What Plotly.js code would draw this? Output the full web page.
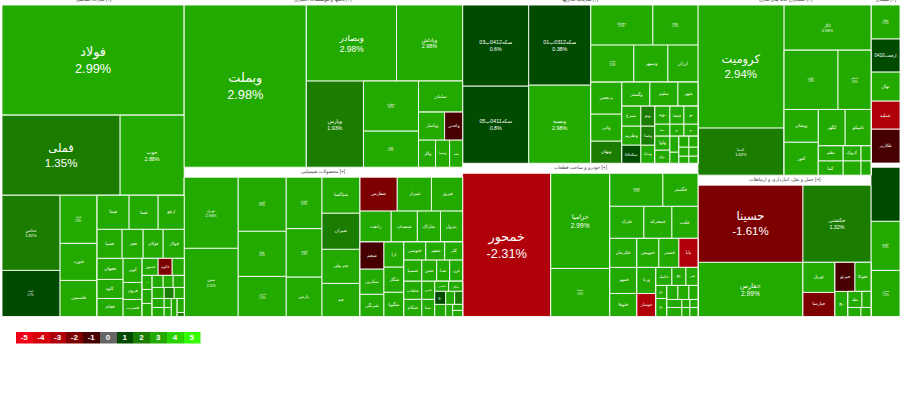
<!DOCTYPE html>
<html><head><meta charset="utf-8">
<script src="https://cdn.plot.ly/plotly-3.0.1.min.js"></script>
<style>html,body{margin:0;padding:0;background:#fff;overflow:hidden}#c{position:absolute;left:0;top:-5px;width:900px;height:412px}</style>
</head><body><div id="c"></div>
<script>
// leaf: [symbol, weight, % change, show % in the label]
// group: a list of leaves/groups, split along alternating directions
var metals = [
  ['فلزات اساسی [+]',1820,null],
  ['فولاد',20020,2.99,1],
  [['فملی',9440,1.35,1],['خوب',5120,2.88,1]],
  [
    [['فخاس',4350,1.82,1],['کچاد',2668,0.7,1]],
    [['فنوال',1776,2.9,1],['فنورد',1369,2.9],['فاسمین',1332,2.9]],
    [
      [['فپنتا',1088,2.9],['فسا',986,2.9],['ارفع',884,2.9]],
      [['فسپا',725,2.9],['فجر',609,2.9],['فولای',580,2.9],['فولاژ',609,2.9]],
      [
        [['فجهان',546,2.9],['کاوه',494,2.9],['فجام',468,2.9]],
        [['کویر',456,2.9],['فروی',323,2.9],['فسرب',323,2.9]],
        [
          [['فسوژ',272,2.9],['فالوم',238,-1.8],['',204,2.9]],
          [
            [['ـــ',140,2.9],['',140,2.9],['',130,2.9]],
            [
              [['',132,2.9],['',120,2.9],['',132,2.9]],
              [['',132,2.9],['',110,1.5],['',110,2.9]],
              [[['',108,2.9],['',108,2.9]],[['',63,2.9],['',63,2.9]],['',108,2.9],[['',98,2.9],['',28,1.5]]]
            ]
          ]
        ]
      ]
    ]
  ]
];
var banks = [
  ['بانکها و موسسات اعتباری [+]',2780,null],
  [
    ['وبملت',19764,2.98,1],
    [
      [['وبصادر',6840,2.98,1],['وپاداش',5016,2.98,1]],
      [
        ['وپارس',4902,1.93,1],
        [['وتجارت',2750,2.9,1],['ودی',1980,2.9,1]],
        [
          ['سامان',1364,2.9],
          [['وپاسار',728,2.9],['وکغدیر',504,-0.9]],
          [['وکار',459,2.9],['وسینا',378,2.9],['ـمـ',351,2.9]]
        ]
      ]
    ]
  ]
];
var chemicals = [
  ['محصولات شیمیایی [+]',2780,null],
  [
    [['نوری',3834,2.94,1],['مبین',3672,2.5,1]],
    [['فارس',2592,2.9,1],['شپنا',2160,2.9,1],['شبریز',1920,2.9,1]],
    [['شتران',1836,2.9,1],['شبندر',1728,2.9,1],['پارس',1404,2.9]],
    [['شپاکسا',1368,2.9],['شیران',1368,1.3],['جم پیلن',1292,2.9],['جم',1254,2.9]],
    [
      [['شفارس',1258,-1.6],['شیراز',1156,2.9],['فیروز',1054,2.9]],
      [['رانفت',961,2.9],['شصدف',806,2.9],['شاراک',713,2.9],['پترول',682,2.9]],
      [
        [['شجم',648,-0.8],['سکرین',600,2.9],['شرنگی',528,2.9]],
        [['ارا',500,2.9],['شگار',500,2.9],['شگویا',480,2.9]],
        [
          [['خنوسی',396,2.9],['شفیر',342,2.9],['کلر',324,2.9]],
          [['شسپا',378,2.9],['شفن',315,2.9],['شـا',273,2.9],['قرن',273,2.9]],
          [
            [['شلعاب',324,2.9],['شکام',306,2.9]],
            [['شـی',234,2.9],['ـسا',221,2.9]],
            [
              [['شغدیر',140,2.9],['شگل',140,2.9]],
              [['ـج',143,0.7],['',117,2.9],['',104,1.5]],
              [['',132,2.9],['',84,2.9],[['',60,2.9],['',60,2.9]]]
            ]
          ]
        ]
      ]
    ]
  ]
];
var investments = [
  ['سرمایه گذاریها [+]',2360,null],
  [
    [['سکه0412ب03',5346,0.6,1],['سکه0411ب05',5082,0.8,1]],
    [['سکه0312ب01',4960,0.38,1],['وبصبه',4836,2.98,1]],
    [
      [['وصندوق',2480,2.9,1],['وبیمه',1800,2.9,1]],
      [['وغدیر',1591,2.9,1],['وسپهر',1258,2.9],['ارزان',1110,2.9]],
      [
        [['برنجس',992,2.9],['واتی',837,2.9],['وبهان',682,1.3]],
        [
          [['وگستر',672,2.9],['سلیم',672,2.9],['شهر',480,2.9]],
          [
            [['ـسرع',380,2.9],['وظریم',361,2.9],['04سکه',342,0.7]],
            [['ـوتو',280,1.5],['وصنا',266,1.5],['وسایا',252,2.9]],
            [
              [['ـوید',270,2.9],['فیضا',252,2.9],['ـو',252,2.9]],
              [['ـمد',180,2.9],['ـو',168,2.9],['ـو',168,2.9]],
              [
                [['ولوا',210,2.9],['ـواج',195,2.9]],
                [['',144,2.9],['',99,2.9]],
                [[['',110,2.9],['',99,2.9]],[['',90,2.9],['',81,2.9]],[['',70,2.9],['',63,2.9]]]
              ]
            ]
          ]
        ]
      ]
    ]
  ]
];
var autos = [
  ['خودرو و ساخت قطعات [+]',2360,null],
  [
    ['خمحور',12584,-2.31,1],
    [['خزامیا',5605,2.99,1],['خساپا',2832,2.9,1]],
    [
      [['خودرو',1749,2.9,1],['خگستر',1155,2.9]],
      [['خترک',1088,2.9],['خمحرکه',896,2.9],['خلنت',832,2.9]],
      [
        [['خکرمان',783,2.9],['خمهر',702,2.9],['ختوقا',621,2.9]],
        [
          [['خپویش',638,2.9],['خصدر',580,2.9],['بابا',551,-2.5]],
          [
            [['ورنا',494,2.9],['خوساز',437,-2.5]],
            [
              [['خکمک',288,2.9],['ـج',252,2.9],['قمر',216,2.9]],
              [
                [['ـج',143,2.9],['ـج',198,2.9]],
                [
                  [['',154,2.9],['',154,2.9],['',126,2.9]],
                  [[['',120,2.9],['',135,2.9]],[['',64,2.9],['',72,2.9]],[['',64,2.9],['',72,2.9]]]
                ]
              ]
            ]
          ]
        ]
      ]
    ]
  ]
];
var mining = [
  ['استخراج کانه های فلزی [+]',1730,null],
  [
    [['کرومیت',10578,2.94,1],['کدما',4042,1.62,1]],
    [
      ['کگل',3915,2.98,1],
      [['کچاپ',3186,2.9,1],['کمنگنز',1947,2.9,1]],
      [
        [['وبشان',1122,2.9],['کنور',1122,2.9]],
        [
          [['کگهر',972,2.9],['تامیکو',936,2.9]],
          [[['نظم',375,2.9],['کما',350,2.9]],[['کروک',270,2.9],['',252,2.9]],[['',150,2.9],['',140,2.9]]]
        ]
      ]
    ]
  ]
];
var transport = [
  ['حمل و نقل، انبارداری و ارتباطات [+]',1730,null],
  [['حسینا',8085,-1.61,1],['حکشتی',5236,1.32,1]],
  [
    ['حفارس',5670,2.99,1],
    [['توریل',960,2.9],['حپارسا',768,-1.6]],
    [
      [['حپرتو',580,-0.5],['حتوکا',464,2.9]],
      [['ـج',325,2.9],[[['ـطـ',224,2.9],['',144,2.9]],[['',117,2.9],['',90,2.9]]]]
    ]
  ]
];
var rightTop = [
  ['سیمان [+]',290,null],
  ['سفار',986,2.9,1],
  ['ارفعت0410',957,0.5],
  ['نهال',841,2.9],
  ['عملیه',812,-2.5],
  ['عکاربر',986,-0.9]
];
var rightBottom = [
  ['',116,null],
  ['',1566,0.7],
  ['ساروم',1421,2.9,1],
  ['سخزر',1334,2.9,1]
];
var columns = [metals, banks.concat(chemicals), investments.concat(autos), mining.concat(transport), rightTop.concat(rightBottom)];

var legendSteps = [-5,-4,-3,-2,-1,0,1,2,3,4,5];
var legendColors = ['#f00014','#d6000d','#b0000a','#7d0000','#470000','#666666','#004b00','#1a7d00','#22aa00','#2ad400','#33ff00'];

function stepColor(p){
  if(p===null) return '#ffffff';
  var s = p>0 ? Math.ceil(p) : Math.floor(p);
  if(p===0) s=0;
  return legendColors[legendSteps.indexOf(Math.max(-5,Math.min(5,s)))];
}
function fontFor(v,show){
  if(show){
    if(v>=12000) return 12.8;
    if(v>=8000) return 11.5;
    if(v>=6500) return 8.5;
    if(v>=5400) return 6.6;
    if(v>=4800) return 5.3;
    if(v>=3400) return 4;
    return 2.6;
  }
  return v>=200 ? 4.5 : 3.5;
}
var ids=['root'],parents=[''],labels=[''],values=[0],colors=['#ffffff'],texts=[''],sizes=[4],tcolors=['#ffffff'],n=0;
function isLeaf(a){return typeof a[0]==='string';}
function add(node,par){
  var id='n'+(++n);
  ids.push(id);parents.push(par);
  if(isLeaf(node)){
    var p=node[2],show=node[3];
    labels.push(node[0]);values.push(node[1]);colors.push(stepColor(p));
    texts.push(p===null ? '' : (show ? node[0]+'<br>'+p+'%' : node[0]));
    sizes.push(p===null ? 4 : fontFor(node[1],show));
    tcolors.push('#ffffff');
  }else{
    labels.push('');values.push(0);colors.push('#ffffff');texts.push('');sizes.push(4);tcolors.push('#ffffff');
    node.forEach(function(c){add(c,id);});
  }
}
columns.forEach(function(col){add(col,'root');});

var H=412;
// sector titles sit in the white band at the top of each sector
var headerCenters=[[metals,93,0],[banks,323,0],[investments,580,0],[mining,785,0],[rightTop,886,0],[chemicals,323,172],[autos,580,168],[transport,785,180]];
var headerNotes=headerCenters.map(function(h){
  return {xref:'paper',yref:'paper',x:h[1]/900,y:1-(h[2]+5)/H,xanchor:'center',yanchor:'middle',showarrow:false,
    text:h[0][0][0],font:{family:'"Liberation Sans","DejaVu Sans",sans-serif',size:4.8,color:'#444444'}};
});
var tree={
  type:'treemap',ids:ids,parents:parents,labels:labels,values:values,text:texts,
  branchvalues:'remainder',sort:false,
  textinfo:'text',texttemplate:'%{text}',textposition:'middle center',
  textfont:{family:'"Liberation Sans","DejaVu Sans",sans-serif',size:sizes,color:tcolors},
  insidetextfont:{family:'"Liberation Sans","DejaVu Sans",sans-serif',size:sizes,color:tcolors},
  marker:{colors:colors,line:{color:'rgba(255,255,255,0.85)',width:1},pad:{t:0,l:0,r:0,b:0},depthfade:false},
  tiling:{packing:'slice-dice',pad:0},
  pathbar:{visible:false},hoverinfo:'skip',
  domain:{x:[2/900,1],y:[1-321.5/H,1]}
};
var legend={
  type:'bar',x:legendSteps,y:legendSteps.map(function(){return 1;}),
  marker:{color:legendColors,line:{width:0}},
  text:legendSteps.map(String),textposition:'inside',insidetextanchor:'middle',textangle:0,constraintext:'none',
  textfont:{family:'"Liberation Sans",sans-serif',size:8,color:'#ffffff',weight:'bold'},
  hoverinfo:'skip',xaxis:'x',yaxis:'y',showlegend:false
};
Plotly.newPlot('c',[tree,legend],{
  width:900,height:H,margin:{l:0,r:0,t:0,b:0},paper_bgcolor:'#fff',plot_bgcolor:'#fff',bargap:0,showlegend:false,
  annotations:headerNotes,
  xaxis:{domain:[16/900,200.5/900],range:[-5.5,5.5],visible:false,fixedrange:true},
  yaxis:{domain:[1-348.5/H,1-337/H],range:[0,1],visible:false,fixedrange:true}
},{displayModeBar:false,staticPlot:true});
</script></body></html>
